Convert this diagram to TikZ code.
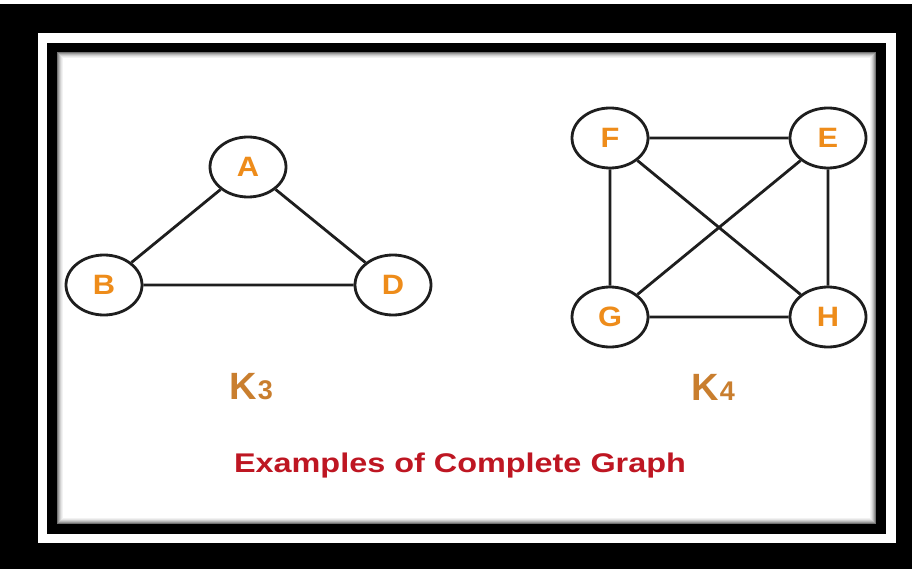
\documentclass[tikz,border=0pt]{standalone}
\usepackage{fontspec}
\setmainfont{Liberation Sans}
\usepackage{graphicx}
\usetikzlibrary{shapes.geometric}

\definecolor{vertexorange}{HTML}{EE8C1A}
\definecolor{labelbrown}{HTML}{C97E2E}
\definecolor{titlered}{HTML}{BE1622}
\definecolor{edgegray}{HTML}{1E1E1E}

\tikzset{
  vertex/.style={ellipse, draw=edgegray, line width=2.8pt, fill=white,
    minimum width=76pt, minimum height=60pt, inner sep=0pt,
    font=\fontsize{28}{32}\selectfont\bfseries, text=vertexorange},
  edge/.style={draw=edgegray, line width=2.8pt},
  klabel/.style={font=\fontsize{38}{44}\selectfont\bfseries, text=labelbrown},
}

\begin{document}
\begin{tikzpicture}[x=1pt,y=-1pt]
    \useasboundingbox (0,0) rectangle (912,569);

    % Frame (black, white band, black, page)
    \fill[white] (0,0) rectangle (912,569);
    \fill[black] (0,4) rectangle (912,569);
    \fill[white] (38,33) rectangle (896,543);
    \fill[black] (47,43) rectangle (886,534);
    \fill[white] (57,52) rectangle (876,524);
    \foreach \i/\c in {0/55,1/40,2/28,3/18,4/10,5/5}
        \draw[black!\c, line width=1pt] (57.5+\i,52.5+\i) rectangle (875.5-\i,523.5-\i);

    % K3
    \node[vertex] (A) at (248,167) {\scalebox{1.1}[1]{A}};
    \node[vertex] (B) at (104,285) {\scalebox{1.1}[1]{B}};
    \node[vertex] (D) at (393,285) {\scalebox{1.1}[1]{D}};
    \draw[edge] (A) -- (B) (A) -- (D) (B) -- (D);

    % K4
    \node[vertex] (F) at (610,138) {\scalebox{1.1}[1]{F}};
    \node[vertex] (E) at (828,138) {\scalebox{1.1}[1]{E}};
    \node[vertex] (G) at (610,317) {\scalebox{1.1}[1]{G}};
    \node[vertex] (H) at (828,317) {\scalebox{1.1}[1]{H}};
    \draw[edge] (F) -- (E) (F) -- (G) (F) -- (H)
                (E) -- (G) (E) -- (H) (G) -- (H);

    % Labels
    \node[klabel] (k3) at (251,387) {K\hspace{1.5pt}{\fontsize{27}{30}\selectfont 3}};
    \node[klabel] (k4) at (713,387) {K\hspace{1.5pt}{\fontsize{27}{30}\selectfont 4}};
    \node[font=\fontsize{27}{32}\selectfont\bfseries, text=titlered] (title) at (460,466)
        {\scalebox{1.2}[1]{Examples of Complete Graph}};
\end{tikzpicture}
\end{document}
